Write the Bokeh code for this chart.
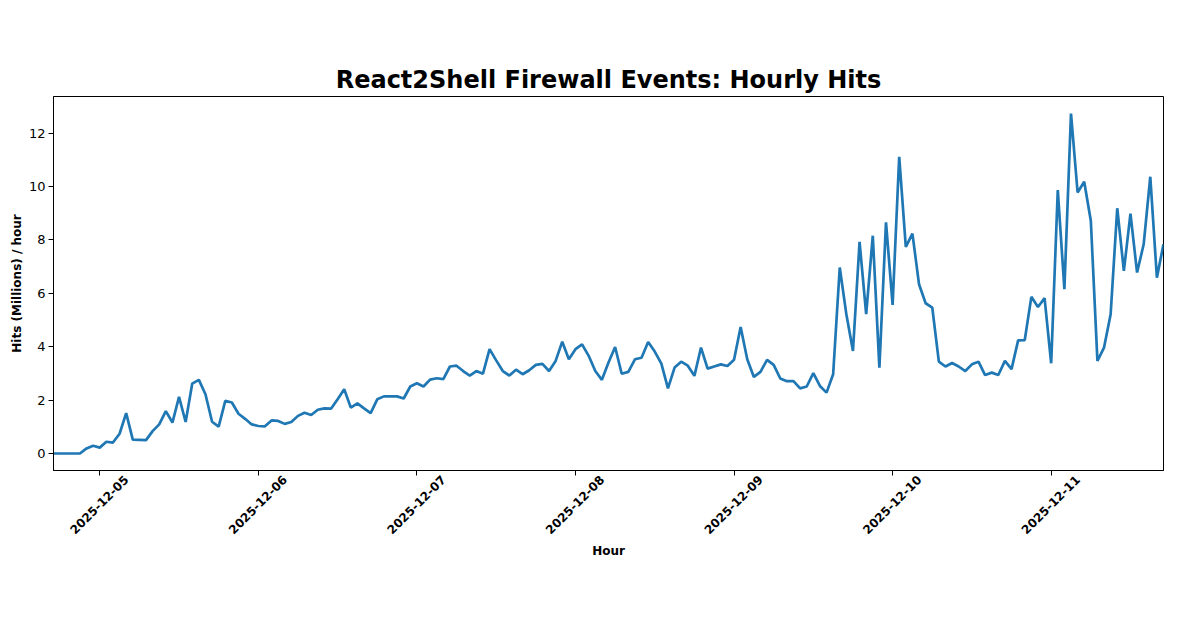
import math
import pandas as pd
from bokeh.plotting import figure
from bokeh.models import (ColumnDataSource, Range1d, FixedTicker, DatetimeAxis,
                          DatetimeTickFormatter)
from bokeh.embed import file_html
from bokeh.resources import INLINE

# ---- data ----
start_hour = "2025-12-04 17:00"
hits_millions = [
    0, 0, 0, 0, 0, 0.19, 0.29, 0.22, 0.44, 0.41, 0.74, 1.51, 0.52, 0.51, 0.50, 0.84,
    1.09, 1.59, 1.16, 2.12, 1.18, 2.62, 2.76, 2.22, 1.19, 1.01, 1.97, 1.91, 1.49, 1.30,
    1.09, 1.03, 1.02, 1.24, 1.22, 1.11, 1.18, 1.41, 1.53, 1.44, 1.64, 1.69, 1.68, 2.03,
    2.41, 1.72, 1.88, 1.69, 1.51, 2.03, 2.14, 2.14, 2.14, 2.06, 2.51, 2.63, 2.51, 2.77,
    2.82, 2.79, 3.26, 3.29, 3.09, 2.92, 3.09, 2.99, 3.91, 3.49, 3.09, 2.92, 3.14, 2.97,
    3.12, 3.32, 3.36, 3.09, 3.47, 4.19, 3.53, 3.91, 4.09, 3.66, 3.09, 2.76, 3.41, 3.99,
    2.99, 3.06, 3.53, 3.59, 4.18, 3.82, 3.37, 2.44, 3.22, 3.44, 3.29, 2.91, 3.97, 3.18,
    3.26, 3.34, 3.28, 3.51, 4.74, 3.53, 2.87, 3.06, 3.51, 3.32, 2.81, 2.71, 2.71, 2.44,
    2.51, 3.01, 2.53, 2.28, 2.97, 6.97, 5.22, 3.84, 7.93, 5.22, 8.16, 3.22, 8.66, 5.57,
    11.12, 7.74, 8.24, 6.34, 5.63, 5.47, 3.44, 3.26, 3.39, 3.26, 3.09, 3.34, 3.44, 2.94,
    3.03, 2.94, 3.47, 3.16, 4.24, 4.25, 5.87, 5.49, 5.82, 3.38, 9.87, 6.16, 12.74, 9.78,
    10.18, 8.72, 3.47, 3.97, 5.22, 9.19, 6.84, 8.99, 6.78, 7.84, 10.37, 6.59, 7.84,
]
hours = pd.date_range(start_hour, periods=len(hits_millions), freq="h")
tick_days = ["2025-12-05", "2025-12-06", "2025-12-07", "2025-12-08",
             "2025-12-09", "2025-12-10", "2025-12-11"]
y_ticks = [0, 2, 4, 6, 8, 10, 12]

title_text = "React2Shell Firewall Events: Hourly Hits"
x_label = "Hour"
y_label = "Hits (Millions) / hour"

FONT = "DejaVu Sans"

# ---- plot ----
src = ColumnDataSource(dict(t=hours, v=hits_millions))

ymax = max(hits_millions)
pad = 0.05 * ymax

p = figure(width=1200, height=628, x_axis_type="datetime",
           output_backend="svg", toolbar_location=None,
           x_range=Range1d(hours[0], hours[-1]),
           y_range=Range1d(-pad, ymax + pad),
           min_border_left=53, min_border_right=37,
           min_border_top=96, min_border_bottom=158)

p.line("t", "v", source=src, line_color="#1f77b4", line_width=2.7)

p.title.text = title_text
p.title.align = "center"
p.title.text_font = FONT
p.title.text_font_size = "24px"
p.title.text_font_style = "bold"
p.title.text_color = "black"
p.title.standoff = 6

p.grid.visible = False
p.outline_line_color = "black"
p.outline_line_width = 1
p.background_fill_color = "white"
p.border_fill_color = "white"

tick_ms = [pd.Timestamp(d).value // 10**6 for d in tick_days]
fmt = "%Y-%m-%d"
formatter = DatetimeTickFormatter(days=fmt, months=fmt, hours=fmt, years=fmt,
                                  minutes=fmt, seconds=fmt, milliseconds=fmt,
                                  minsec=fmt, hourmin=fmt)

# main x axis: tick marks only
p.xaxis.ticker = FixedTicker(ticks=tick_ms)
p.xaxis.major_label_overrides = {t: "" for t in tick_ms}
p.xaxis.major_label_text_font_size = "1px"
p.xaxis.major_label_standoff = 0

# label axis: same dates, shifted so that each rotated label is centred on its tick
label_px = 26.5
px_per_ms = (1163 - 53) / (hours[-1] - hours[0]).total_seconds() / 1000
shift = pd.Timedelta(milliseconds=label_px / px_per_ms)
p.extra_x_ranges = {"lbl": Range1d(hours[0] - shift, hours[-1] - shift)}
lax = DatetimeAxis(x_range_name="lbl", ticker=FixedTicker(ticks=tick_ms),
                   formatter=formatter)
lax.axis_line_color = None
lax.major_tick_line_color = None
lax.minor_tick_line_color = None
lax.major_tick_out = 0
lax.major_tick_in = 0
lax.major_label_orientation = math.pi / 4
lax.major_label_standoff = 2
lax.major_label_text_font = FONT
lax.major_label_text_font_size = "12px"
lax.major_label_text_font_style = "bold"
lax.major_label_text_color = "black"
lax.axis_label = x_label
lax.axis_label_text_font = FONT
lax.axis_label_text_font_size = "12px"
lax.axis_label_text_font_style = "bold"
lax.axis_label_text_color = "black"
lax.axis_label_standoff = 3
p.add_layout(lax, "below")

p.yaxis.ticker = FixedTicker(ticks=y_ticks)
p.yaxis.axis_label = y_label

for ax in (p.xaxis[0], p.yaxis[0]):
    ax.major_label_text_font = FONT
    ax.major_label_text_color = "black"
    ax.axis_label_text_font = FONT
    ax.axis_label_text_font_size = "12px"
    ax.axis_label_text_font_style = "bold"
    ax.axis_label_text_color = "black"
    ax.axis_line_color = "black"
    ax.major_tick_line_color = "black"
    ax.major_tick_out = 5
    ax.major_tick_in = 0
    ax.minor_tick_line_color = None
p.yaxis.major_label_standoff = 3
p.yaxis.major_label_text_font_size = "13px"
p.yaxis.axis_label_standoff = 2

open("out.html", "w").write(file_html(p, INLINE))
